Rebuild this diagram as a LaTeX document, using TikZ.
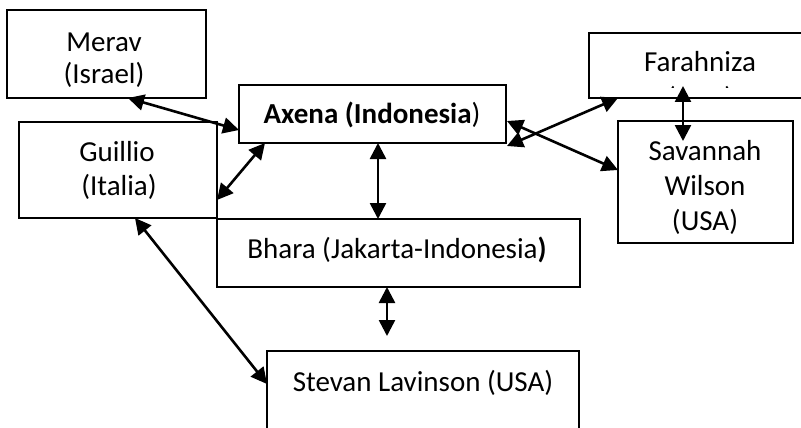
\documentclass[tikz,border=0pt]{standalone}
\usepackage{fontspec}
\setmainfont{Carlito}
\usetikzlibrary{arrows.meta}
\begin{document}
\begin{tikzpicture}[x=1pt,y=-1pt,
  box/.style={draw=black,line width=2pt,inner sep=0pt,outer sep=0pt,fill=white},
  txt/.style={inner sep=0pt,anchor=base,font=\fontsize{29}{35}\selectfont},
  tip/.style={Triangle[length=16pt,width=16pt]},
  link/.style={line width=2.6pt,{Triangle[length=16pt,width=16pt]}-{Triangle[length=16pt,width=16pt]}}]
\fill[white] (0,0) rectangle (801,428);
\useasboundingbox (0,0) rectangle (801,428);
\clip (0,0) rectangle (801,428);

% boxes
\node[box,minimum width=199pt,minimum height=88pt] (merav) at (106.5,54) {};
\node[box,minimum width=198pt,minimum height=96pt] (guillio) at (118,170) {};
\node[box,minimum width=267pt,minimum height=58pt] (axena) at (372.5,114) {};
\node[box,minimum width=363pt,minimum height=68pt] (bhara) at (398.5,253) {};
\node[box,minimum width=312pt,minimum height=100pt] (stevan) at (423,401) {};
\node[box,minimum width=221pt,minimum height=65pt] (farahniza) at (699.5,65.5) {};
\node[box,minimum width=175pt,minimum height=122pt] (savannah) at (705.5,182) {};

% labels
\node[txt] (meravA) at (104,52) {Merav};
\node[txt] (meravB) at (104,84) {(Israel)};
\node[txt] (guillioA) at (117,161) {Guillio};
\node[txt] (guillioB) at (119,195) {(Italia)};
\node[txt] (axenaT) at (372,124) {\textbf{Axena (Indonesia}) };
\node[txt] (bharaT) at (397,258) {Bhara (Jakarta-Indonesia\textbf{)}};
\node[txt] (stevanT) at (423,391) {Stevan Lavinson (USA)};
\node[txt] (farahA) at (700,72) {Farahniza};
\begin{scope}
  \clip (589,60) rectangle (801,87.5);
  \node[txt] (farahB) at (700,107) {(USA)};
\end{scope}
\node[txt] (savA) at (705,160) {Savannah};
\node[txt] (savB) at (705,195) {Wilson};
\node[txt] (savC) at (705,230) {(USA)};

% connectors
\draw[link] ([xshift=121pt]merav.south west) -- ([yshift=-16pt]axena.west);
\draw[link] ([xshift=26pt]axena.south west) -- ([yshift=-30pt]guillio.east);
\draw[link] ([xshift=5.5pt]axena.south) -- ([xshift=5.5pt]axena.south |- bhara.north);
\draw[link] ([xshift=1pt,yshift=-3pt]axena.south east) -- ([xshift=29pt]farahniza.south west);
\draw[link] ([xshift=1pt,yshift=-7pt]axena.east) -- ([yshift=12pt]savannah.west);
\draw[link] ([xshift=94pt,yshift=12pt]farahniza.south west) -- ([xshift=65pt,yshift=-20pt]savannah.north west);
\draw[link] ([xshift=116pt]guillio.south west) -- ([yshift=-33pt]stevan.north west);
\draw[link] ([xshift=-11.5pt]bhara.south) -- ([xshift=120pt,yshift=15pt]stevan.north west);
\end{tikzpicture}
\end{document}
